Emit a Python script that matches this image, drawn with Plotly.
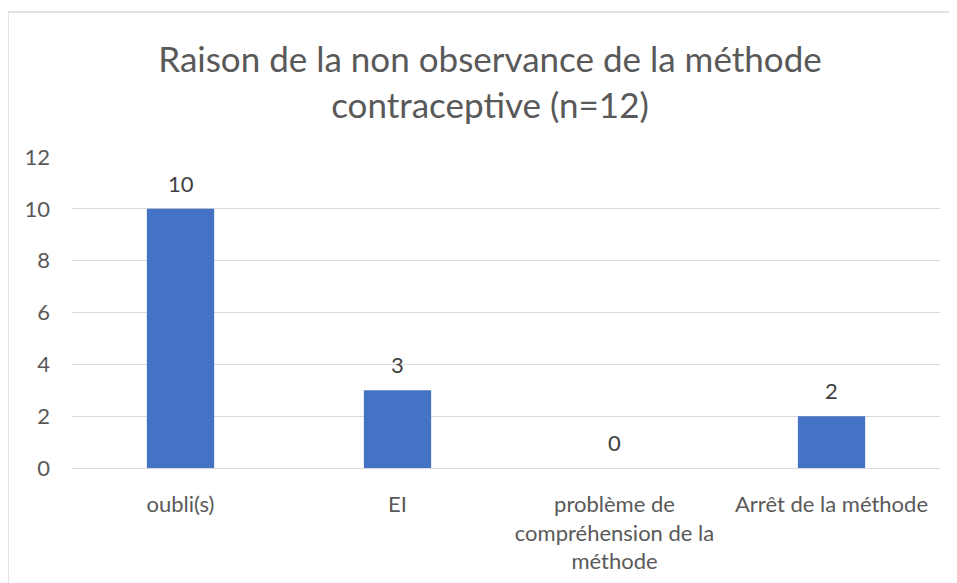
import plotly.graph_objects as go

categories = ["oubli(s)", "EI", "problème de<br>compréhension de la<br>méthode", "Arrêt de la méthode"]
values = [10, 3, 0, 2]
y_ticks = [0, 2, 4, 6, 8, 10, 12]

title_text = "Raison de la non observance de la méthode<br>contraceptive (n=12)"

FONT = "Lato"
TXT = "#595959"

# the page has an 8px body margin; figure coordinates below compensate for it
L, T = 64, 149
PW, PH = 868, 311

fig = go.Figure()
fig.add_trace(go.Bar(
    x=categories, y=values,
    marker=dict(color="#4472C4", line=dict(width=0)),
    width=0.31,
    hoverinfo="skip",
))

for c, v in zip(categories, values):
    fig.add_annotation(x=c, y=v, text=str(v), showarrow=False,
                       yanchor="bottom", yshift=10,
                       font=dict(family=FONT, size=22, color="#404040"))

fig.update_layout(
    width=957, height=583,
    margin=dict(l=L, r=957 - L - PW, t=T, b=583 - T - PH),
    paper_bgcolor="white", plot_bgcolor="white",
    showlegend=False,
    title=dict(text=title_text, x=482 / 957, xanchor="center",
               y=1 - 64 / 583, yanchor="top",
               font=dict(family=FONT, size=35, color=TXT)),
    font=dict(family=FONT, size=22, color=TXT),
)
fig.update_xaxes(showgrid=False, showline=False, zeroline=False, ticks="",
                 tickfont=dict(family=FONT, size=22, color=TXT),
                 ticklabelstandoff=21)
fig.update_yaxes(range=[0, 12], tickvals=y_ticks, showgrid=True,
                 gridcolor="#d9d9d9", gridwidth=1, zeroline=True,
                 zerolinecolor="#d9d9d9", zerolinewidth=1, showline=False,
                 ticks="", tickfont=dict(family=FONT, size=22, color=TXT),
                 ticklabelstandoff=21)

# chart area border (top and left edges visible)
bx = (0 - L) / PW
by = 1 + (T - 4) / PH
fig.add_shape(type="line", xref="paper", yref="paper",
              x0=bx, x1=1.2, y0=by, y1=by,
              line=dict(color="#d9d9d9", width=1.5))
fig.add_shape(type="line", xref="paper", yref="paper",
              x0=bx, x1=bx, y0=by, y1=-0.6,
              line=dict(color="#d9d9d9", width=1.5))

fig.write_html("out.html")
